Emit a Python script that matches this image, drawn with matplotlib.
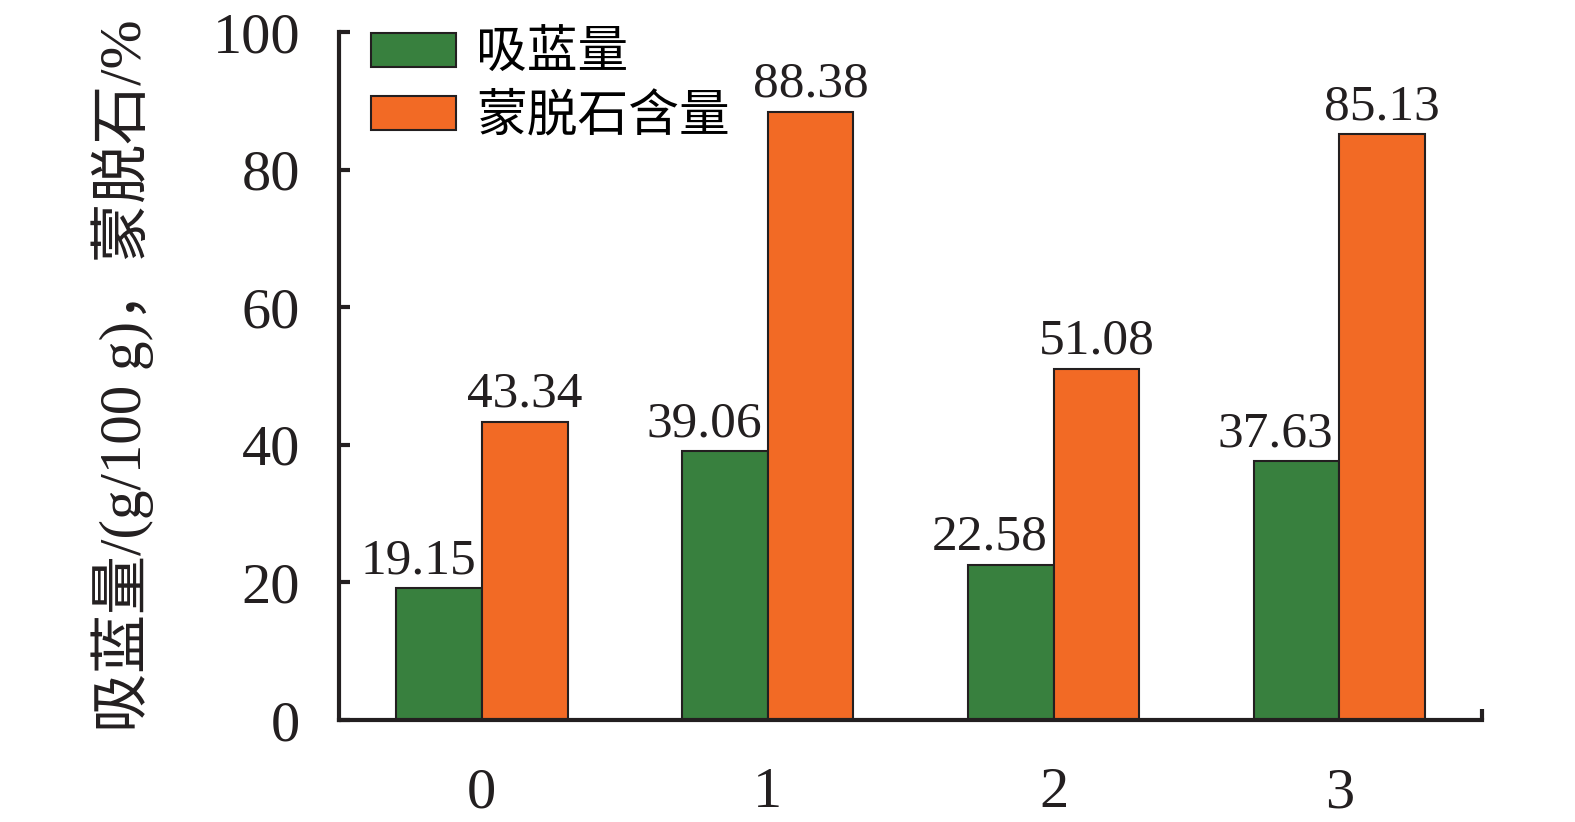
import numpy as np
import matplotlib
matplotlib.use("Agg")
import matplotlib.pyplot as plt

plt.rcParams['font.family'] = ['Liberation Serif', 'Noto Sans CJK SC', 'DejaVu Sans']

# data
categories = ["0", "1", "2", "3"]
absorb = [19.15, 39.06, 22.58, 37.63]
mont = [43.34, 88.38, 51.08, 85.13]
series_names = ["吸蓝量", "蒙脱石含量"]

green = "#38803e"
orange = "#f26a25"
ink = "#231f20"

fig = plt.figure(figsize=(15.75, 8.22), dpi=100)
ax = fig.add_axes([0.2152, 0.124, 0.726, 0.837])

x = np.arange(len(categories))
w = 0.3
b1 = ax.bar(x - w / 2, absorb, w, color=green, edgecolor=ink, linewidth=1.5, label=series_names[0])
b2 = ax.bar(x + w / 2, mont, w, color=orange, edgecolor=ink, linewidth=1.5, label=series_names[1])

# green labels sit a little to the left so they clear the orange bars
for xi, v in zip(x - w / 2, absorb):
    ax.annotate(f"{v:.2f}", (xi, v), xytext=(-15, 3), textcoords="offset points",
                ha="center", va="bottom", fontsize=37, color=ink)
ax.bar_label(b2, labels=[f"{v:.2f}" for v in mont], padding=3, fontsize=37, color=ink)

ax.set_xlim(-0.5, 3.5)
ax.set_ylim(0, 100)
ax.set_yticks(np.arange(0, 101, 20))
ax.set_xticks(x)
ax.set_xticklabels(categories)
ax.set_xticks([3.5], minor=True)

for s in ["top", "right"]:
    ax.spines[s].set_visible(False)
for s in ["left", "bottom"]:
    ax.spines[s].set_linewidth(3)
    ax.spines[s].set_color(ink)

ax.tick_params(axis="y", direction="in", length=8, width=3, color=ink, labelsize=42, pad=28, labelcolor=ink)
ax.tick_params(axis="x", which="major", length=0, labelsize=42, pad=34, labelcolor=ink)
ax.tick_params(axis="x", which="minor", direction="in", length=8, width=3, color=ink)

ax.set_ylabel("吸蓝量/(g/100 g)，蒙脱石/%", fontsize=42.5, color=ink)
ax.yaxis.set_label_coords(-0.162, 0.5)

ax.legend(loc="upper left", bbox_to_anchor=(0.01, 1.03), frameon=False, fontsize=36.5,
          handlelength=1.68, handleheight=0.65, handletextpad=0.4, labelspacing=0.3,
          borderaxespad=0)

fig.savefig("out.png", dpi=100)
